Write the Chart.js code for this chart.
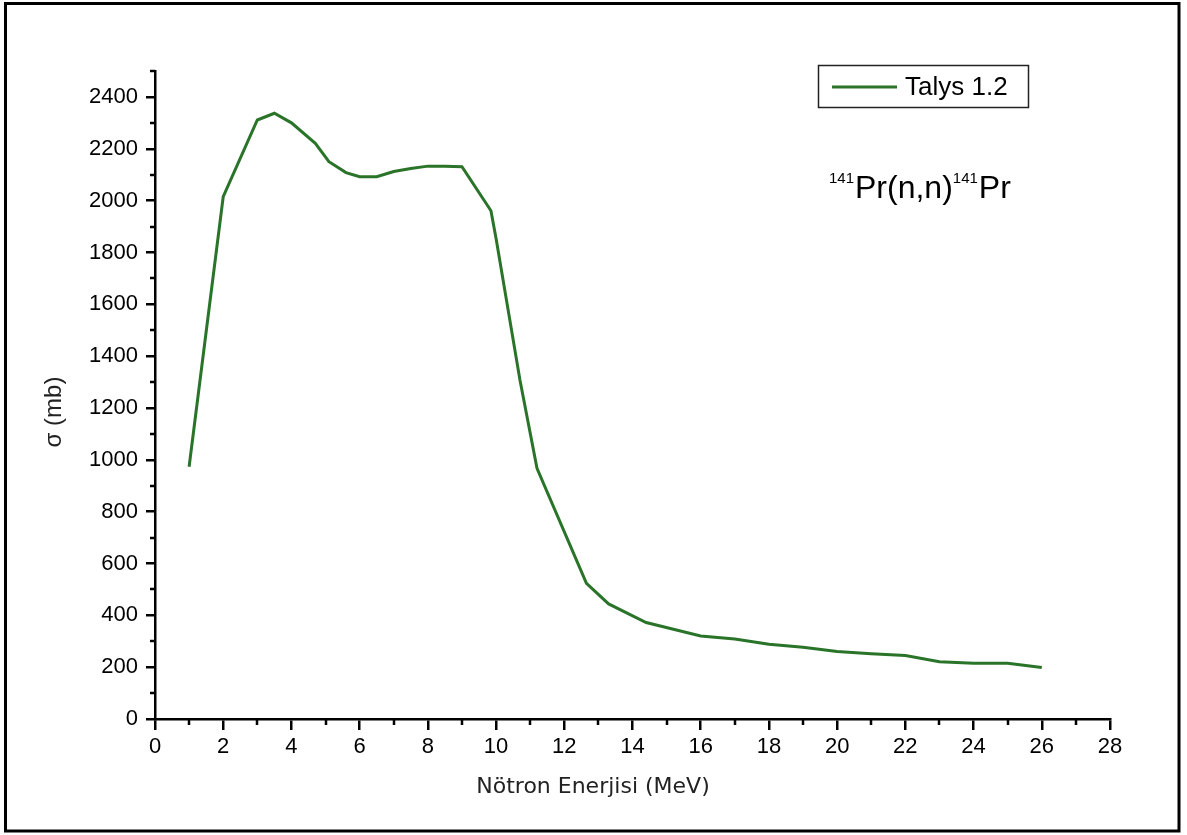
<!DOCTYPE html>
<html>
<head>
<meta charset="utf-8">
<title>141Pr(n,n)141Pr - Talys 1.2</title>
<script src="https://cdn.jsdelivr.net/npm/chart.js@4.4.0/dist/chart.umd.min.js"></script>
<style>
    html, body { margin: 0; padding: 0; background: #fff; }
    #wrap { width: 1187px; height: 835px; }
</style>
</head>
<body>
<div id="wrap"><canvas id="sigmaChart" width="1187" height="835"></canvas></div>
<script>
// neutron energy (MeV) and cross section (mb)
const energies = [1, 2, 3, 3.5, 4, 4.7, 5.1, 5.6, 6, 6.5, 7, 7.5, 8, 8.5, 9, 9.85, 10,
    10.7, 11.2, 12.65, 13.3, 14.4, 16, 17, 18, 19, 20, 21, 22, 23, 24, 25, 26];
const sigma = [973, 2015, 2311, 2337, 2300, 2221, 2150, 2108, 2092, 2092, 2112, 2124, 2133, 2133, 2131, 1961, 1854,
    1308, 967, 523, 444, 372, 320, 309, 288, 277, 260, 252, 245, 221, 215, 215, 199];

const xTicks = [0, 2, 4, 6, 8, 10, 12, 14, 16, 18, 20, 22, 24, 26, 28];
const yTicks = [0, 200, 400, 600, 800, 1000, 1200, 1400, 1600, 1800, 2000, 2200, 2400];
const xMinor = [1, 3, 5, 7, 9, 11, 13, 15, 17, 19, 21, 23, 25, 27];
const yMinor = [100, 300, 500, 700, 900, 1100, 1300, 1500, 1700, 1900, 2100, 2300, 2500];

const seriesLabel = 'Talys 1.2';
const xTitle = 'Nötron Enerjisi (MeV)';
const yTitle = 'σ (mb)';

const lineColor = '#2a742a';
const tickFont = { family: '"Liberation Sans", Arial, sans-serif', size: 22 };

// frame, minor ticks, axis titles, legend box and reaction label
const extras = {
    id: 'extras',
    beforeDraw(chart) {
        const ctx = chart.ctx;
        ctx.save();
        ctx.fillStyle = '#fff';
        ctx.fillRect(0, 0, chart.width, chart.height);
        ctx.restore();
    },
    afterDraw(chart) {
        const ctx = chart.ctx;
        const xs = chart.scales.x, ys = chart.scales.y;
        const area = chart.chartArea;
        ctx.save();

        // outer frame
        ctx.strokeStyle = '#000';
        ctx.lineWidth = 3;
        ctx.strokeRect(5.5, 3.5, 1173.5, 827.5);

        // minor ticks
        ctx.lineWidth = 2.5;
        ctx.beginPath();
        xMinor.forEach(v => {
            const px = Math.round(xs.getPixelForValue(v));
            ctx.moveTo(px, area.bottom);
            ctx.lineTo(px, area.bottom + 6);
        });
        yMinor.forEach(v => {
            const py = Math.round(ys.getPixelForValue(v));
            ctx.moveTo(area.left, py);
            ctx.lineTo(area.left - 5, py);
        });
        ctx.stroke();

        // axis titles
        ctx.fillStyle = '#222';
        ctx.textAlign = 'center';
        ctx.textBaseline = 'middle';
        ctx.font = '22px "DejaVu Sans", Verdana, sans-serif';
        ctx.fillText(xTitle, 593, 787);
        ctx.save();
        ctx.translate(54, 412);
        ctx.rotate(-Math.PI / 2);
        ctx.font = '24px "Liberation Sans", Arial, sans-serif';
        ctx.fillText(yTitle, 0, 0);
        ctx.restore();

        // legend
        const ds = chart.data.datasets[0];
        ctx.lineWidth = 1.5;
        ctx.strokeStyle = '#222';
        ctx.strokeRect(818.5, 65.5, 210, 42);
        ctx.strokeStyle = ds.borderColor;
        ctx.lineWidth = 3;
        ctx.beginPath();
        ctx.moveTo(832, 87);
        ctx.lineTo(897, 87);
        ctx.stroke();
        ctx.fillStyle = '#000';
        ctx.textAlign = 'left';
        ctx.textBaseline = 'middle';
        ctx.font = '26px "Liberation Sans", Arial, sans-serif';
        ctx.fillText(ds.label, 905, 88);

        // reaction label with superscript mass numbers
        const parts = [['141', true], ['Pr(n,n)', false], ['141', true], ['Pr', false]];
        let x = 829;
        ctx.textBaseline = 'alphabetic';
        parts.forEach(([txt, sup]) => {
            ctx.font = sup ? '15px "Liberation Sans", Arial, sans-serif'
                           : '32px "Liberation Sans", Arial, sans-serif';
            ctx.fillText(txt, x, sup ? 183 : 198);
            x += ctx.measureText(txt).width + (sup ? 1 : 0);
        });

        ctx.restore();
    }
};

const points = energies.map((e, i) => ({ x: e, y: sigma[i] }));

new Chart(document.getElementById('sigmaChart'), {
    type: 'line',
    data: {
        datasets: [{
            label: seriesLabel,
            data: points,
            borderColor: lineColor,
            backgroundColor: lineColor,
            borderWidth: 3,
            pointRadius: 0,
            tension: 0,
            fill: false
        }]
    },
    options: {
        responsive: false,
        animation: false,
        layout: { padding: { top: 71, right: 77, left: 0, bottom: 0 } },
        plugins: {
            legend: { display: false },
            tooltip: { enabled: false }
        },
        scales: {
            x: {
                type: 'linear',
                min: 0,
                max: 28,
                afterFit: s => { s.height = 116; },
                afterBuildTicks: s => { s.ticks = xTicks.map(v => ({ value: v })); },
                ticks: {
                    stepSize: 2,
                    maxRotation: 0,
                    padding: 4,
                    color: '#000',
                    font: tickFont,
                    callback: v => String(v)
                },
                grid: {
                    drawOnChartArea: false,
                    drawTicks: true,
                    tickLength: 11,
                    color: '#000',
                    lineWidth: 2.5
                },
                border: { display: true, color: '#000', width: 2.5 }
            },
            y: {
                min: 0,
                max: 2500,
                afterFit: s => { s.width = 155; },
                afterBuildTicks: s => { s.ticks = yTicks.map(v => ({ value: v })); },
                ticks: {
                    stepSize: 200,
                    padding: 8,
                    color: '#000',
                    font: tickFont,
                    callback: v => String(v)
                },
                grid: {
                    drawOnChartArea: false,
                    drawTicks: true,
                    tickLength: 9,
                    color: '#000',
                    lineWidth: 2.5
                },
                border: { display: true, color: '#000', width: 2.5 }
            }
        }
    },
    plugins: [extras]
});
</script>
</body>
</html>
